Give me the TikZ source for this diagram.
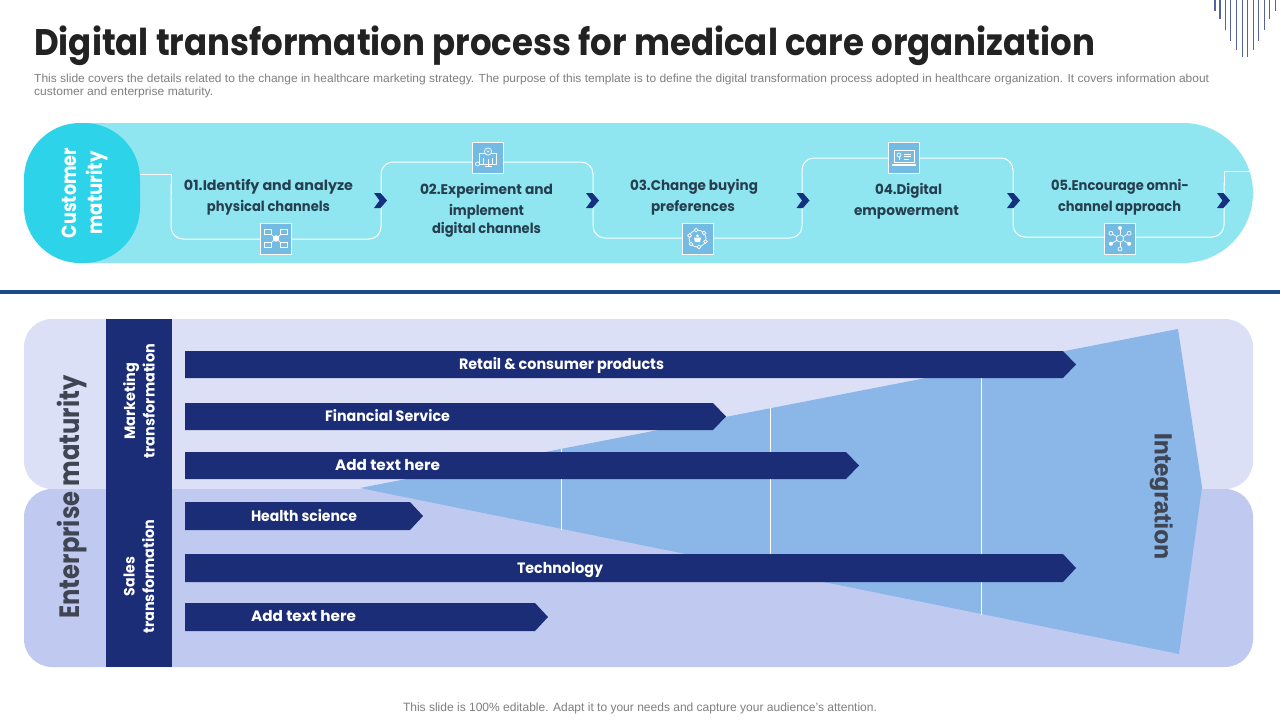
\documentclass[tikz,border=0pt]{standalone}
\usepackage{fontspec}
\usepackage{graphicx}
\usetikzlibrary{calc}
\setmainfont{Liberation Sans}
\newfontfamily\pop{Poppins}
\newfontfamily\intfont[BoldFeatures={FakeBold=1.2}]{Liberation Sans}
\definecolor{bandc}{HTML}{8FE6F0}
\definecolor{custc}{HTML}{2DD3E8}
\definecolor{iconc}{HTML}{74BBE3}
\definecolor{navy}{HTML}{1C2D78}
\definecolor{chevc}{HTML}{14307F}
\definecolor{rulec}{HTML}{1A4A8C}
\definecolor{panela}{HTML}{DCE0F6}
\definecolor{panelb}{HTML}{C0CAF0}
\definecolor{funnelc}{HTML}{8AB6E8}
\definecolor{stept}{HTML}{263F50}
\definecolor{darkt}{HTML}{3F4553}
\definecolor{greyt}{HTML}{7F7F7F}
\definecolor{titlec}{HTML}{222222}
\definecolor{stripec}{HTML}{55639F}
\newcommand{\ft}[2]{\resizebox{#1pt}{\height}{#2}}
\tikzset{
  x=1pt,y=-1pt,
  poptext/.style={font=\pop\bfseries\fontsize{14}{16}\selectfont,inner sep=0pt,align=center},
  steptext/.style={poptext,text=stept},
  bartext/.style={poptext,text=white,font=\pop\bfseries\fontsize{15}{17}\selectfont},
  sidetext/.style={poptext,text=white,rotate=90,font=\pop\bfseries\fontsize{15}{19.5}\selectfont},
  iconbox/.style={draw=white,line width=1pt,fill=iconc,minimum width=31pt,minimum height=31pt,inner sep=0pt},
  glyph/.style={draw=white,line width=0.7pt},
  serp/.style={draw=white,line width=1pt,rounded corners=12pt},
  chev/.style={fill=chevc},
  arrowbar/.style={fill=navy},
  divider/.style={draw=white,line width=0.8pt},
  stripe/.style={draw=stripec,line width=1.1pt},
  greynote/.style={inner sep=0pt,text=greyt,font=\fontsize{11.7}{14}\selectfont,anchor=base west}
}
\newcommand{\chevron}[1]{\fill[chev] (#1,193) -- (#1+6.5,193) -- (#1+13,200.5) -- (#1+6.5,208) -- (#1,208) -- (#1+5.5,200.5) -- cycle;}
\newcommand{\barshape}[3]{\fill[arrowbar] (185,#1) -- (#3-13,#1) -- (#3,{(#1+#2)/2}) -- (#3-13,#2) -- (185,#2) -- cycle;}
\begin{document}
\begin{tikzpicture}
\useasboundingbox (0,0) rectangle (1280,720);
\fill[white] (0,0) rectangle (1280,720);

% corner stripes
\foreach \sx/\sy in {1215/11,1220/19,1225.7/30,1230.7/41,1236.7/50,1242.3/57,1247.7/57,1253.3/50,1258.7/41,1264.3/30,1269.7/19,1275.7/11}
  \draw[stripe] (\sx,0) -- (\sx,\sy);

% title
\node[inner sep=0pt,anchor=base west,text=titlec,font=\pop\bfseries\fontsize{37}{40}\selectfont] (title) at (34,55) {\ft{1061}{Digital transformation process for medical care organization}};
\node[greynote] (sub1) at (34,82) {\ft{1175}{This slide covers the details related to the change in healthcare marketing strategy. The purpose of this template is to define the digital transformation process adopted in healthcare organization. It covers information about}};
\node[greynote] (sub2) at (34,95.5) {\ft{179}{customer and enterprise maturity.}};

% customer band
\fill[bandc,rounded corners=70pt] (24,123) rectangle (1253,263);
\node[fill=custc,rounded corners=56pt,minimum width=116pt,minimum height=140pt,inner sep=0pt] (cust) at (82,193) {};
\node[sidetext,text=white,font=\pop\bfseries\fontsize{20.5}{26}\selectfont] (custl) at (85,193) {\ft{90}{Customer}\\\ft{83}{maturity}};

% serpentine connector
\coordinate (s1) at (171,174);
\coordinate (s0) at (cust.east |- s1);
\coordinate (s2) at (171,239);
\coordinate (s3) at (381,239);
\coordinate (s4) at (381,162);
\coordinate (s5) at (593,162);
\coordinate (s6) at (593,238);
\coordinate (s7) at (802,238);
\coordinate (s8) at (802,158);
\coordinate (s9) at (1013,158);
\coordinate (s10) at (1013,237);
\coordinate (s11) at (1224,237);
\coordinate (s12) at (1224,171);
\coordinate (s13) at (1250,171);
\draw[draw=white,line width=1pt] (s0) -- (s1) -- ($(s1)+(0,20)$);
\draw[serp] ($(s1)+(0,10)$) -- (s2) -- (s3) -- (s4) -- (s5) -- (s6) -- (s7) -- (s8) -- (s9) -- (s10) -- (s11) -- ($(s12)+(0,12)$);
\draw[draw=white,line width=1pt] ($(s12)+(0,14)$) -- (s12) -- (s13);

% icons
\node[iconbox] (ic1) at (276,238.5) {};
\begin{scope}[shift={(ic1.center)}]
  \draw[glyph] (-6,-5) -- (6,5) (6,-5) -- (-6,5);
  \fill[white] (0,0) circle (3.2);
  \foreach \ix/\iy in {-8/-6.5,8/-6.5,-8/6.5,8/6.5}{
    \draw[glyph,fill=iconc] (\ix-3.2,\iy-2.4) rectangle (\ix+3.2,\iy+2.4);}
\end{scope}
\node[iconbox] (ic2) at (487.5,157.5) {};
\begin{scope}[shift={(ic2.center)}]
  \draw[glyph] (-8,-4) rectangle (9,7);
  \draw[glyph] (-3,9) -- (4,9) (0.5,7) -- (0.5,9);
  \draw[glyph,fill=iconc] (0.5,-6) circle (3.6);
  \fill[white] (0.5,-6) circle (1.2);
  \draw[glyph] (-4,6) -- (-4,0) (0.5,6) -- (0.5,1) (5,6) -- (5,0);
  \draw[glyph,fill=iconc] (-10,6.5) circle (2);
  \draw[glyph] (-8,6.5) -- (-3,6.5);
\end{scope}
\node[iconbox] (ic3) at (697.5,238.5) {};
\begin{scope}[shift={(ic3.center)}]
  \draw[glyph] (0,0) circle (8.5);
  \foreach \a in {20,80,140,200,260,320}{
    \draw[glyph,fill=iconc] (\a:8.5) circle (1.9);}
  \fill[white] (-3.5,-1) -- (3.5,-1) -- (2.5,3.5) -- (-2.5,3.5) -- cycle;
  \fill[white] (0,-2.6) circle (1.5);
\end{scope}
\node[iconbox] (ic4) at (904,157.5) {};
\begin{scope}[shift={(ic4.center)}]
  \draw[glyph] (-10,-7) rectangle (10,5);
  \fill[white] (-12,6) rectangle (12,8);
  \draw[glyph] (-5,-2.5) circle (2);
  \draw[glyph] (-5,-0.5) -- (-5,2);
  \draw[glyph] (0,-3.5) -- (7,-3.5) (0,-1) -- (7,-1) (0,1.5) -- (5,1.5);
\end{scope}
\node[iconbox] (ic5) at (1120,238.5) {};
\begin{scope}[shift={(ic5.center)}]
  \foreach \a in {30,90,150,210,270,330}{
    \draw[glyph] (0,0) -- (\a:9.5);}
  \foreach \a in {30,150,270}{
    \fill[white] (\a:10.5) circle (2);}
  \foreach \a in {90,210,330}{
    \draw[glyph,fill=iconc] (\a:10.5) circle (2);}
  \draw[glyph,fill=iconc] (0,0) circle (3.6);
\end{scope}

% chevrons
\chevron{374}
\chevron{586}
\chevron{796.5}
\chevron{1007}
\chevron{1217}

% step labels
\node[steptext] (t1a) at (268.5,187) {\ft{169}{01.Identify and analyze}};
\node[steptext] (t1b) at (268.5,208) {\ft{123}{physical channels}};
\node[steptext] (t2a) at (486.5,191) {\ft{133}{02.Experiment and}};
\node[steptext] (t2b) at (486.5,212) {\ft{75}{implement}};
\node[steptext] (t2c) at (486.5,230) {\ft{109}{digital channels}};
\node[steptext] (t3a) at (694,187) {\ft{128}{03.Change buying}};
\node[steptext] (t3b) at (693,208) {\ft{84}{preferences}};
\node[steptext] (t4a) at (908.5,191) {\ft{67}{04.Digital}};
\node[steptext] (t4b) at (906.5,212.5) {\ft{105}{empowerment}};
\node[steptext] (t5a) at (1120,187) {\ft{138}{05.Encourage omni-}};
\node[steptext] (t5b) at (1119.5,208) {\ft{123}{channel approach}};

% divider rule
\fill[rulec] (0,290) rectangle (1280,294);

% enterprise panels
\fill[panela,rounded corners=28pt] (24,319) rectangle (1253,489);
\fill[panelb,rounded corners=28pt] (24,489) rectangle (1253,667);
\fill[panela] (106,480) rectangle (1180,489);

% funnel
\fill[funnelc] (360,488) -- (1178,329) -- (1202,487) -- (1179,654) -- cycle;
\draw[divider] (561,449) -- (561,529.5);
\draw[divider] (770,408) -- (770,571.5);
\draw[divider] (981,367) -- (981,614.5);

% navy column
\fill[navy] (106,319) rectangle (172,667);

% arrow bars
\barshape{351}{378}{1076}
\barshape{403}{430}{726}
\barshape{452}{479}{859}
\barshape{502}{530}{423}
\barshape{554}{582}{1076}
\barshape{603}{631}{548}
\node[bartext] (b1) at (561.5,365) {\ft{205}{Retail \& consumer products}};
\node[bartext] (b2) at (387.5,416) {\ft{125}{Financial Service}};
\node[bartext] (b3) at (387.5,465) {\ft{105}{Add text here}};
\node[bartext] (b4) at (304,516) {\ft{106}{Health science}};
\node[bartext] (b5) at (560,570) {\ft{86}{Technology}};
\node[bartext] (b6) at (303.5,616) {\ft{105}{Add text here}};

% side labels
\node[poptext,text=darkt,rotate=90,font=\pop\bfseries\fontsize{28}{30}\selectfont] (ent) at (72,497) {\ft{243}{Enterprise maturity}};
\node[sidetext] (mk) at (139,401) {\ft{77}{Marketing}\\\ft{114}{transformation}};
\node[sidetext] (sl) at (139,576.5) {\ft{39}{Sales}\\\ft{114}{transformation}};
\node[inner sep=0pt,rotate=-90,text=darkt,font=\intfont\bfseries\fontsize{24}{26}\selectfont] (integ) at (1161,496) {\ft{126}{Integration}};

% footer
\node[inner sep=0pt,anchor=base,text=greyt,font=\fontsize{12}{14}\selectfont] (foot) at (640,711) {\ft{474}{This slide is 100\% editable. Adapt it to your needs and capture your audience's attention.}};
\end{tikzpicture}
\end{document}
